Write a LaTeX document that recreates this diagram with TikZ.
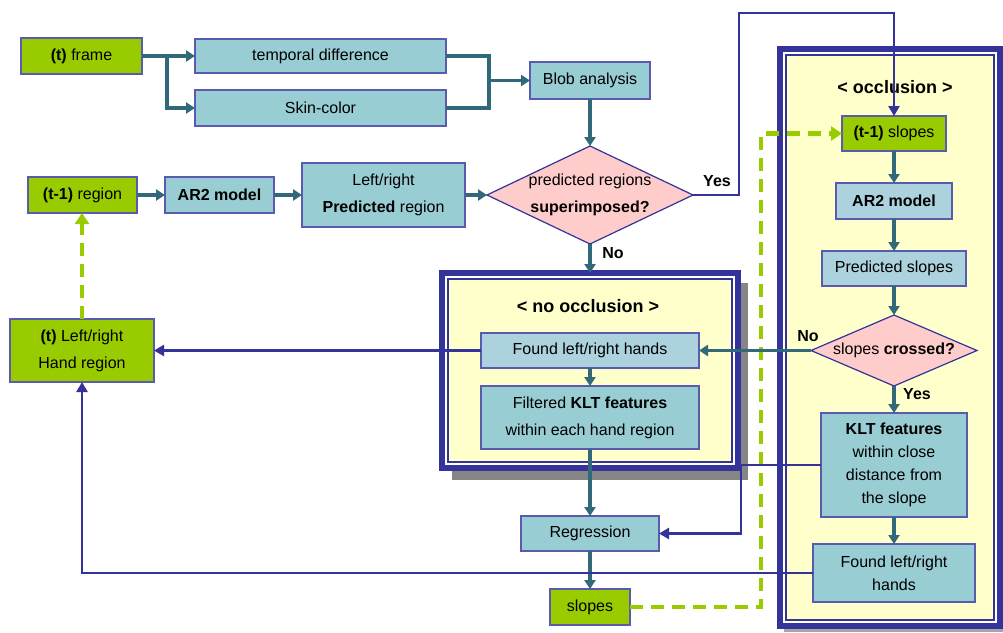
\documentclass[tikz,border=0pt]{standalone}
\usepackage{fontspec}
\setmainfont{Liberation Sans}
\usetikzlibrary{shapes.geometric,arrows.meta}
\definecolor{boxcyan}{HTML}{99CDD4}
\definecolor{boxlight}{HTML}{ACD2DE}
\definecolor{boxedge}{HTML}{5A5AAE}
\definecolor{leaf}{HTML}{99CC00}
\definecolor{rose}{HTML}{FFCCCC}
\definecolor{cream}{HTML}{FFFFCC}
\definecolor{navy}{HTML}{333399}
\definecolor{slate}{HTML}{31687A}

\begin{document}
\begin{tikzpicture}[x=1pt, y=-1pt, outer sep=0pt]

\tikzstyle{proc}=[draw=boxedge, line width=1.3pt, fill=boxcyan, rectangle, anchor=north west, align=center, inner sep=0pt, font=\fontsize{16}{27}\selectfont]
\tikzstyle{procl}=[proc, fill=boxlight]
\tikzstyle{state}=[proc, fill=leaf]
\tikzstyle{decision}=[draw=navy, line width=1.2pt, fill=rose, diamond, inner sep=0pt]
\tikzstyle{label}=[font=\fontsize{16}{27}\selectfont, align=center]
\tikzstyle{case}=[font=\fontsize{16}{18}\selectfont\bfseries]
\tikzstyle{region}=[draw=navy, line width=6pt, fill=cream, rectangle, anchor=north west, inner sep=0pt]
\tikzstyle{flow}=[draw=slate, line width=3.2pt, -{Triangle[width=11pt,length=9pt]}]
\tikzstyle{link}=[draw=slate, line width=3.2pt]
\tikzstyle{back}=[draw=navy, line width=2.4pt, -{Triangle[width=11pt,length=10pt]}]
\tikzstyle{memo}=[draw=leaf, line width=4.5pt, dash pattern=on 13pt off 8pt, -{Triangle[width=14pt,length=11pt]}]

\useasboundingbox (0,0) rectangle (1003,632);

% frames
\fill[gray!95] (452,283) rectangle (748,480);
\node[region, minimum width=296pt, minimum height=195pt] (nofr) at (442,273) {};
\draw[white, line width=1.2pt] ([shift={(4,4)}]nofr.north west) rectangle ([shift={(-4,-4)}]nofr.south east);
\draw[navy, line width=1.2pt] ([shift={(6,6)}]nofr.north west) rectangle ([shift={(-6,-6)}]nofr.south east);
\fill[gray!70] (784,622) rectangle (1003,632);
\node[region, minimum width=220pt, minimum height=577pt] (occfr) at (780,49) {};
\draw[white, line width=1.2pt] ([shift={(4,4)}]occfr.north west) rectangle ([shift={(-4,-4)}]occfr.south east);
\draw[navy, line width=1.2pt] ([shift={(6,6)}]occfr.north west) rectangle ([shift={(-6,-6)}]occfr.south east);
\node[font=\fontsize{18}{20}\selectfont\bfseries] (nocctxt) at (588,306) {< no occlusion >};
\node[font=\fontsize{18}{20}\selectfont\bfseries] (occtxt) at (895,87) {< occlusion >};

% top row
\node[state, minimum width=121pt, minimum height=36pt] (frame) at (21,38) {\textbf{(t)} frame};
\node[proc, minimum width=251pt, minimum height=34pt] (tdiff) at (195,39) {temporal difference};
\node[proc, minimum width=251pt, minimum height=36pt] (skin) at (195,90) {Skin-color};
\node[proc, minimum width=120pt, minimum height=37pt] (blob) at (530,62) {Blob analysis};

% second row
\node[state, minimum width=109pt, minimum height=36pt] (region) at (28,177) {\textbf{(t-1)} region};
\node[proc, minimum width=109pt, minimum height=36pt] (ar2a) at (165,177) {\textbf{AR2 model}};
\node[proc, minimum width=163pt, minimum height=64pt] (pred) at (302,163) {Left/right\\\textbf{Predicted} region};
\node[decision, minimum width=206pt, minimum height=98pt] (dia1) at (590,195) {};
\node[label] (dia1txt) at (590,195) {predicted regions\\\textbf{superimposed?}};

% no occlusion
\node[procl, minimum width=218pt, minimum height=35pt] (hands1) at (481,333) {Found left/right hands};
\node[proc, minimum width=218pt, minimum height=63pt] (filt) at (481,386) {Filtered \textbf{KLT features}\\within each hand region};
\node[proc, minimum width=138pt, minimum height=35pt] (regr) at (521,516) {Regression};
\node[state, minimum width=80pt, minimum height=36pt] (slopes2) at (550,589) {slopes};
\node[state, minimum width=144pt, minimum height=63pt] (handreg) at (10,319) {\textbf{(t)} Left/right\\Hand region};

% occlusion
\node[state, minimum width=104pt, minimum height=35pt] (slopes1) at (842,116) {\textbf{(t-1)} slopes};
\node[procl, minimum width=116pt, minimum height=36pt] (ar2b) at (836,183) {\textbf{AR2 model}};
\node[procl, minimum width=144pt, minimum height=35pt] (predsl) at (822,251) {Predicted slopes};
\node[decision, minimum width=166pt, minimum height=71pt] (dia2) at (894,350.5) {};
\node[label] (dia2txt) at (894,350.5) {slopes \textbf{crossed?}};
\node[proc, minimum width=146pt, minimum height=104pt, font=\fontsize{16}{23}\selectfont] (klt) at (821,413) {\textbf{KLT features}\\within close\\distance from\\the slope};
\node[proc, minimum width=162pt, minimum height=58pt, font=\fontsize{16}{23}\selectfont] (hands2) at (813,544) {Found left/right\\hands};

% connectors
\coordinate (fork) at (167,56);
\draw[flow] (frame.east) -- (fork) |- (tdiff.west);
\draw[flow] (fork) |- (skin.west);
\coordinate (merge) at (489,0);
\draw[link] (tdiff.east) -| (merge |- skin.east) -- (skin.east);
\draw[flow] (merge |- blob.west) -- (blob.west);
\draw[flow] (blob.south) -- (dia1.north);
\draw[flow] (region) -- (ar2a);
\draw[flow] (ar2a) -- (pred);
\draw[flow] (pred) -- (dia1);
\coordinate (yesturn) at (739,13);
\draw[back] (dia1.east) -| (yesturn) -| (slopes1.north);
\node[case] (yes1) at (717,181) {Yes};
\draw[flow] (dia1.south) -- (nofr.north);
\node[case] (no1) at (613,253) {No};

\draw[flow] (slopes1) -- (ar2b);
\draw[flow] (ar2b) -- (predsl);
\draw[flow] (predsl) -- (dia2.north);
\draw[flow] (dia2.south) -- (klt.north);
\node[case] (yes2) at (917,394) {Yes};
\draw[flow] (klt) -- (hands2);

\coordinate (gturn) at (761,0);
\draw[memo] (slopes2.east) -- (gturn |- slopes2.east) -- (gturn |- slopes1.west) -- (slopes1.west);
\draw[memo] (handreg.north) -- (handreg.north |- region.south);

\draw[flow] (dia2.west) -- (hands1.east);
\node[case] (no2) at (808,336) {No};
\draw[back] (hands1.west) -- (handreg.east);
\draw[flow] (hands1) -- (filt);
\draw[flow] (filt) -- (regr);
\draw[flow] (regr) -- (slopes2);
\coordinate (kturn) at (741,0);
\draw[back] (klt.west) -- (kturn |- klt.west) -- (kturn |- regr.east) -- (regr.east);
\draw[back] (hands2.west) -| (handreg.south);

\end{tikzpicture}
\end{document}
